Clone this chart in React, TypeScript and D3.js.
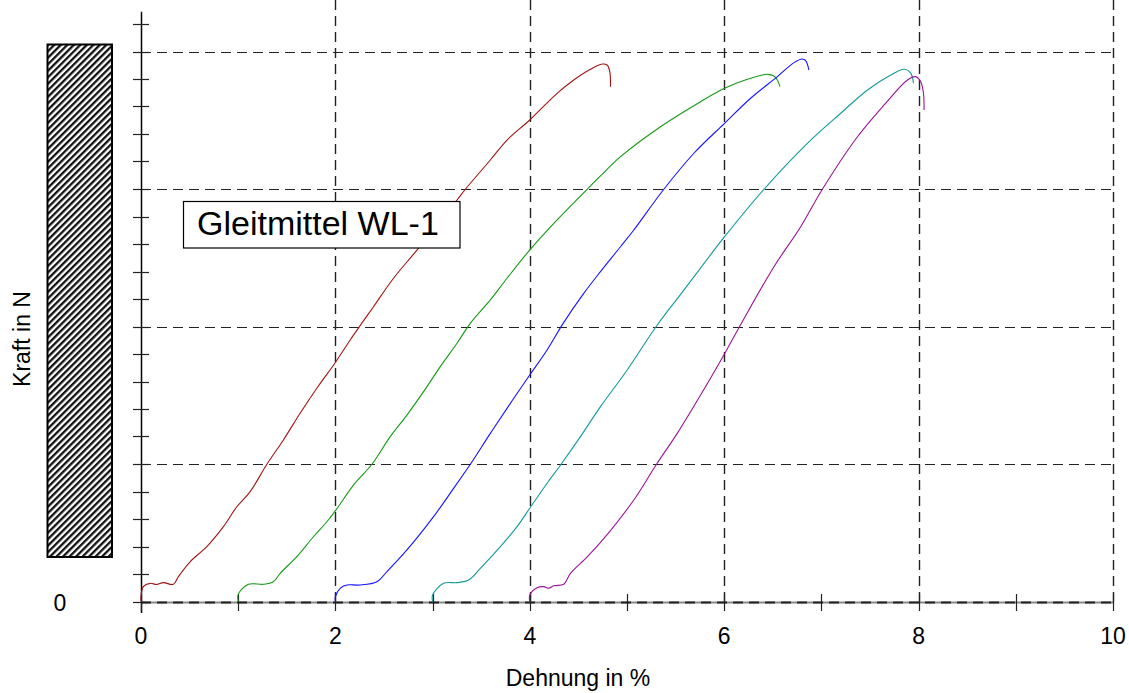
import React from "react";
import * as d3 from "d3";

const xTickValues = [0, 1, 2, 3, 4, 5, 6, 7, 8, 9, 10];
const xTickLabels = ["0", "", "2", "", "4", "", "6", "", "8", "", "10"];
const xGridValues = [2, 4, 6, 8, 10];
const yGridValues = [0, 1, 2, 3, 4];
const yMinorTicks = [0, 0.2, 0.4, 0.6, 0.8, 1, 1.2, 1.4, 1.6, 1.8, 2, 2.2, 2.4, 2.6, 2.8, 3, 3.2, 3.4, 3.6, 3.8, 4, 4.2];

const redSeries: [number, number][] = [
  [0, 0], [0, 0.035], [0.024, 0.108], [0.093, 0.132], [0.162, 0.124], [0.23, 0.137], [0.333, 0.125],
  [0.384, 0.18], [0.505, 0.289], [0.677, 0.399], [0.848, 0.544], [0.986, 0.689], [1.123, 0.799],
  [1.295, 0.998], [1.465, 1.175], [1.637, 1.369], [1.809, 1.551], [2.005, 1.744], [2.152, 1.902],
  [2.283, 2.035], [2.392, 2.144], [2.598, 2.351], [2.839, 2.556], [3.251, 2.92], [3.337, 2.998],
  [3.594, 3.211], [3.766, 3.356], [3.999, 3.502], [4.281, 3.696], [4.452, 3.793], [4.624, 3.871],
  [4.745, 3.909], [4.796, 3.902], [4.823, 3.853], [4.83, 3.744],
];
const greenSeries: [number, number][] = [
  [1.0, 0], [1.0, 0.052], [1.105, 0.125], [1.26, 0.125], [1.362, 0.144], [1.432, 0.205], [1.603, 0.326],
  [1.774, 0.471], [1.912, 0.58], [2.005, 0.665], [2.186, 0.847], [2.376, 0.998], [2.564, 1.199],
  [2.736, 1.356], [2.907, 1.526], [3.079, 1.708], [3.251, 1.878], [3.388, 2.023], [3.594, 2.193],
  [3.766, 2.351], [3.999, 2.556], [4.281, 2.775], [4.59, 2.998], [4.727, 3.095], [4.933, 3.235],
  [5.345, 3.453], [5.757, 3.635], [6.004, 3.732], [6.238, 3.798], [6.444, 3.834], [6.512, 3.822],
  [6.547, 3.793], [6.574, 3.744],
];
const blueSeries: [number, number][] = [
  [2.0, 0], [2.0, 0.035], [2.049, 0.096], [2.118, 0.12], [2.255, 0.12], [2.427, 0.144], [2.53, 0.217],
  [2.736, 0.375], [3.01, 0.617], [3.216, 0.823], [3.388, 0.998], [3.594, 1.223], [3.8, 1.441],
  [3.999, 1.647], [4.178, 1.829], [4.343, 2.023], [4.555, 2.241], [4.727, 2.399], [4.933, 2.58],
  [5.07, 2.702], [5.379, 2.998], [5.688, 3.26], [6.004, 3.478], [6.272, 3.66], [6.547, 3.817],
  [6.718, 3.919], [6.804, 3.945], [6.838, 3.933], [6.872, 3.865],
];
const tealSeries: [number, number][] = [
  [3.0, 0], [3.0, 0.047], [3.113, 0.132], [3.251, 0.137], [3.371, 0.156], [3.491, 0.241], [3.697, 0.399],
  [3.869, 0.544], [3.999, 0.678], [4.178, 0.86], [4.322, 0.998], [4.521, 1.199], [4.727, 1.417],
  [5.002, 1.684], [5.311, 2.011], [5.585, 2.265], [6.004, 2.653], [6.409, 2.998], [6.856, 3.332],
  [7.199, 3.551], [7.474, 3.72], [7.714, 3.829], [7.851, 3.871], [7.92, 3.841], [7.947, 3.769],
];
const purpleSeries: [number, number][] = [
  [4.0, 0], [4.0, 0.047], [4.075, 0.1], [4.143, 0.108], [4.195, 0.096], [4.246, 0.115], [4.349, 0.125],
  [4.418, 0.205], [4.59, 0.324], [4.809, 0.498], [5.07, 0.738], [5.304, 0.998], [5.517, 1.223],
  [5.757, 1.502], [5.997, 1.793], [6.186, 2.035], [6.512, 2.435], [6.787, 2.726], [7.01, 2.998],
  [7.371, 3.38], [7.645, 3.611], [7.886, 3.793], [7.971, 3.817], [8.022, 3.78], [8.05, 3.696], [8.056, 3.575],
];

const seriesList = [
  { name: "red", data: redSeries, color: "#a01414" },
  { name: "green", data: greenSeries, color: "#149a14" },
  { name: "blue", data: blueSeries, color: "#1414ff" },
  { name: "teal", data: tealSeries, color: "#149a9a" },
  { name: "purple", data: purpleSeries, color: "#9a149a" },
];

const legendText = "Gleitmittel WL-1";
const xAxisTitle = "Dehnung in %";
const yAxisTitle = "Kraft in N";
const yZeroLabel = "0";

export default function App() {
  const W = 1129;
  const H = 693;
  const x = d3.scaleLinear().domain([0, 10]).range([141, 1113]);
  const y = d3.scaleLinear().domain([0, 4]).range([601.5, 51.5]);
  const line = d3
    .line<[number, number]>()
    .x((d) => x(d[0]))
    .y((d) => y(d[1]))
    .curve(d3.curveCatmullRom.alpha(0.5));
  const font = "Liberation Sans, Arial, sans-serif";
  const yTop = y(4.29);

  return (
    <svg
      width={W}
      height={H}
      style={{ position: "absolute", left: 0, top: 0, background: "#fff" }}
      fontFamily={font}
    >
      <defs>
        <pattern
          id="hatch"
          patternUnits="userSpaceOnUse"
          width={4.6}
          height={4.6}
          patternTransform="rotate(45)"
        >
          <rect width={4.6} height={4.6} fill="#fff" />
          <rect width={2.3} height={4.6} fill="#111" />
        </pattern>
      </defs>

      {/* hatched bar */}
      <rect x={47.5} y={44.5} width={64.5} height={512.5} fill="url(#hatch)" stroke="#000" strokeWidth={2} />

      {/* horizontal gridlines */}
      {yGridValues.map((v) => (
        <line
          key={"hg" + v}
          x1={x(0)}
          x2={x(10)}
          y1={Math.round(y(v)) + 0.5}
          y2={Math.round(y(v)) + 0.5}
          stroke={v === 0 ? "#888" : "#222"}
          strokeWidth={v === 0 ? 2 : 1.2}
          strokeDasharray={v === 0 ? undefined : "10,6"}
        />
      ))}
      <line
        x1={x(0)}
        x2={x(10)}
        y1={Math.round(y(0)) + 0.5}
        y2={Math.round(y(0)) + 0.5}
        stroke="#222"
        strokeWidth={2}
        strokeDasharray="10,6"
      />

      {/* vertical gridlines */}
      {xGridValues.map((v) => (
        <line
          key={"vg" + v}
          x1={Math.round(x(v)) + 0.5}
          x2={Math.round(x(v)) + 0.5}
          y1={0}
          y2={y(0)}
          stroke="#222"
          strokeWidth={1.4}
          strokeDasharray="10,6"
        />
      ))}

      {/* y axis */}
      <line x1={x(0) + 0.5} x2={x(0) + 0.5} y1={yTop} y2={613} stroke="#000" strokeWidth={1.5} />
      {yMinorTicks.map((v) => (
        <line
          key={"yt" + v}
          x1={133}
          x2={149}
          y1={Math.round(y(v)) + 0.5}
          y2={Math.round(y(v)) + 0.5}
          stroke="#222"
          strokeWidth={1.2}
        />
      ))}

      {/* x ticks */}
      {xTickValues.map((v) => (
        <line
          key={"xt" + v}
          x1={Math.round(x(v)) + 0.5}
          x2={Math.round(x(v)) + 0.5}
          y1={594}
          y2={611}
          stroke="#222"
          strokeWidth={1.2}
        />
      ))}
      {xTickValues.map((v, i) =>
        xTickLabels[i] ? (
          <text key={"xl" + v} x={x(v)} y={644} fontSize={23} textAnchor="middle" fill="#000">
            {xTickLabels[i]}
          </text>
        ) : null
      )}
      <text x={60} y={611} fontSize={23} textAnchor="middle" fill="#000">
        {yZeroLabel}
      </text>

      {/* series */}
      {seriesList.map((s) => (
        <path key={s.name} d={line(s.data) || ""} fill="none" stroke={s.color} strokeWidth={1.1} />
      ))}

      {/* legend box */}
      <rect x={183.5} y={201.5} width={276.5} height={46.5} fill="#fff" stroke="#000" strokeWidth={1.2} />
      <text x={197} y={235} fontSize={34} fill="#000">
        {legendText}
      </text>

      {/* axis titles */}
      <text x={578} y={686} fontSize={23} textAnchor="middle" fill="#000">
        {xAxisTitle}
      </text>
      <text
        transform={`translate(30, 339) rotate(-90)`}
        fontSize={23}
        textAnchor="middle"
        fill="#000"
      >
        {yAxisTitle}
      </text>
    </svg>
  );
}
